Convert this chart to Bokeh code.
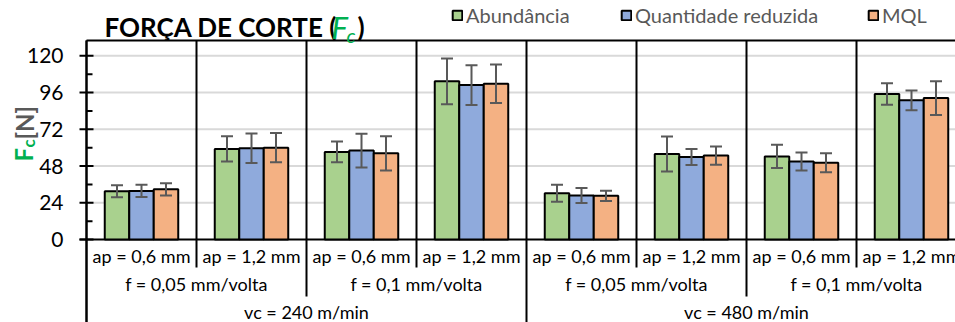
import math
from bokeh.plotting import figure
from bokeh.models import (ColumnDataSource, Whisker, TeeHead, Label, Legend, LegendItem, Range1d)
from bokeh.core.properties import value
from bokeh.embed import file_html
from bokeh.resources import INLINE

# ---------------- data ----------------
ap_labels = ["ap = 0,6 mm", "ap = 1,2 mm", "ap = 0,6 mm", "ap = 1,2 mm",
             "ap = 0,6 mm", "ap = 1,2 mm", "ap = 0,6 mm", "ap = 1,2 mm"]
f_labels = ["f = 0,05 mm/volta", "f = 0,1 mm/volta", "f = 0,05 mm/volta", "f = 0,1 mm/volta"]
vc_labels = ["vc = 240 m/min", "vc = 480 m/min"]
series_names = ["Abundância", "Quantidade reduzida", "MQL"]

abund = [31.5, 59.2, 57.2, 103.3, 30.2, 55.9, 54.3, 95.0]
abund_err = [3.9, 8.2, 6.8, 15.0, 5.5, 11.4, 7.6, 7.0]
reduz = [31.7, 59.6, 58.1, 100.9, 28.7, 53.9, 50.9, 90.9]
reduz_err = [4.0, 9.7, 11.0, 13.0, 4.9, 5.3, 5.9, 6.5]
mql = [32.8, 60.0, 56.3, 101.8, 28.5, 54.8, 50.2, 92.4]
mql_err = [4.0, 9.5, 11.2, 12.6, 3.4, 5.9, 6.2, 11.0]

y_ticks = [0, 24, 48, 72, 96, 120]
y_minor = [12, 36, 60, 84, 108]

# ---------------- style ----------------
colors = ["#a9d18e", "#8faadc", "#f4b183"]
FONT = "Lato"
GREEN = "#00b050"
GREY = "#595959"

YMAX = 130
XMAX = 7.9
PX_X = 110.0            # px per group
PX_Y = 199.0 / YMAX     # px per unit
W, H = 955, 322


def dx(px):   # page x -> data x
    return (px - 86) / PX_X


def dy(py):   # page y -> data y
    return (239 - py) / PX_Y


p = figure(width=W, height=H, x_range=Range1d(dx(0), dx(W)),
           y_range=Range1d(dy(H), dy(0)),
           output_backend="svg", toolbar_location=None,
           x_axis_location=None, y_axis_location=None, min_border=0)
p.title.visible = False
p.outline_line_color = None
p.grid.visible = False
p.background_fill_color = "white"
p.border_fill_color = "white"

n = len(abund)
F = value(FONT)

# horizontal grid lines
gl = [t for t in y_ticks if t > 0]
p.segment(x0=[0] * len(gl), x1=[XMAX] * len(gl), y0=gl, y1=gl,
          line_color="#d9d9d9", line_width=2)

# group separators
depth_map = {"ap": dy(267), "f": dy(296), "vc": dy(H + 5)}
levels = ["vc", "ap", "f", "ap", "vc", "ap", "f", "ap"]
sep_x = list(range(n))
p.segment(x0=sep_x, x1=sep_x, y0=[YMAX] * n, y1=[depth_map[l] for l in levels],
          line_color="black", line_width=2)

# frame top & baseline
p.segment(x0=[0, dx(79)], x1=[XMAX, XMAX], y0=[YMAX, 0], y1=[YMAX, 0],
          line_color="black", line_width=2)

# y ticks
p.segment(x0=[dx(79)] * len(y_ticks), x1=[dx(93)] * len(y_ticks), y0=y_ticks, y1=y_ticks,
          line_color="black", line_width=2)
p.segment(x0=[0] * len(y_minor), x1=[dx(92)] * len(y_minor), y0=y_minor, y1=y_minor,
          line_color="black", line_width=2)
p.text(x=[dx(63)] * len(y_ticks), y=y_ticks, text=[str(t) for t in y_ticks],
       text_align="right", text_baseline="middle", text_font=F,
       text_font_size="21px", text_color="black")

# bars
off = 0.2227
bw = 0.2227
centers = [i + 0.5 for i in range(n)]
renderers = []
for k, (vals, errs) in enumerate([(abund, abund_err), (reduz, reduz_err), (mql, mql_err)]):
    xs = [c + (k - 1) * off for c in centers]
    src = ColumnDataSource(dict(x=xs, top=vals,
                                upper=[v + e for v, e in zip(vals, errs)],
                                lower=[v - e for v, e in zip(vals, errs)]))
    r = p.vbar(x="x", top="top", bottom=0, width=bw, source=src, fill_color=colors[k],
               line_color="black", line_width=2)
    renderers.append(r)
    p.add_layout(Whisker(source=src, base="x", upper="upper", lower="lower",
                         line_color=GREY, line_width=2, level="overlay",
                         upper_head=TeeHead(size=12, line_color=GREY, line_width=2),
                         lower_head=TeeHead(size=12, line_color=GREY, line_width=2)))

# y axis line
p.segment(x0=[0], x1=[0], y0=[dy(H + 5)], y1=[YMAX], line_color="black", line_width=2)

# category labels
p.text(x=centers, y=[dy(255)] * n, text=ap_labels, text_align="center",
       text_baseline="middle", text_font=F, text_font_size="18px", text_color="black")
p.text(x=[1, 3, 5, 7], y=[dy(283)] * 4, text=f_labels, text_align="center",
       text_baseline="middle", text_font=F, text_font_size="18px", text_color="black")
p.text(x=[2, 6], y=[dy(311)] * 2, text=vc_labels, text_align="center",
       text_baseline="middle", text_font=F, text_font_size="18px", text_color="black")

# title
TB = 26  # title baseline (page px)
p.add_layout(Label(x=dx(104), y=dy(TB), text="FORÇA DE CORTE (", text_font=FONT,
                   text_font_style="bold", text_font_size="26px", text_color="black",
                   text_baseline="alphabetic", text_align="left"))
p.add_layout(Label(x=dx(331), y=dy(TB), text="F", text_font=FONT,
                   text_font_style="italic", text_font_size="31px", text_color=GREEN,
                   text_baseline="alphabetic", text_align="left"))
p.add_layout(Label(x=dx(346), y=dy(TB + 8), text="c", text_font=FONT,
                   text_font_style="italic", text_font_size="20px", text_color=GREEN,
                   text_baseline="alphabetic", text_align="left"))
p.add_layout(Label(x=dx(357), y=dy(TB), text=")", text_font=FONT,
                   text_font_style="bold", text_font_size="26px", text_color="black",
                   text_baseline="alphabetic", text_align="left"))

# y axis title (rotated)
p.add_layout(Label(x=dx(23), y=dy(161), text="F", angle=math.pi / 2, text_font=FONT,
                   text_font_style="bold", text_font_size="24px", text_color=GREEN,
                   text_baseline="alphabetic", text_align="left"))
p.add_layout(Label(x=dx(28), y=dy(147), text="c", angle=math.pi / 2, text_font=FONT,
                   text_font_style="bold", text_font_size="17px", text_color=GREEN,
                   text_baseline="alphabetic", text_align="left"))
p.add_layout(Label(x=dx(24), y=dy(139), text="[N]", angle=math.pi / 2, text_font=FONT,
                   text_font_style="bold", text_font_size="24px", text_color=GREY,
                   text_baseline="alphabetic", text_align="left"))

# legend (one per entry for exact placement)
leg_x = [451, 620, 867]
for k in range(3):
    legend = Legend(items=[LegendItem(label=series_names[k], renderers=[renderers[k]])],
                    orientation="horizontal", location=(leg_x[k], 295), spacing=0,
                    glyph_width=12, glyph_height=12, label_standoff=3, padding=0, margin=0,
                    border_line_color=None, background_fill_alpha=0,
                    label_text_font=FONT, label_text_font_size="20px",
                    label_text_color=GREY, label_height=20)
    p.add_layout(legend, "center")

open("out.html", "w").write(file_html(p, INLINE))
